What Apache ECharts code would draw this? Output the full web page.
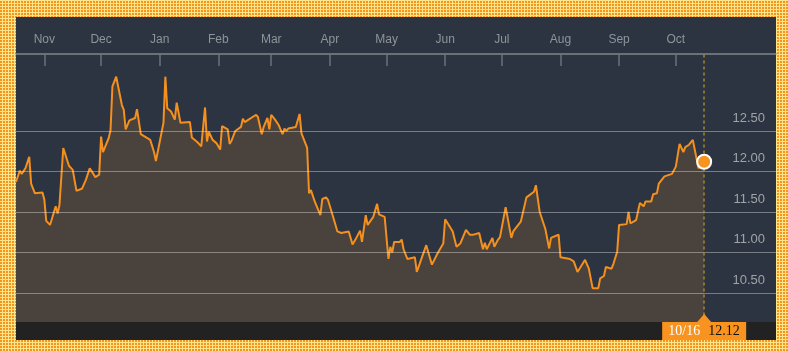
<!DOCTYPE html>
<html>
<head>
<meta charset="utf-8">
<script src="https://cdn.jsdelivr.net/npm/echarts@6/dist/echarts.min.js"></script>
<style>
html, body {
  margin: 0;
  padding: 0;
}
body {
  width: 788px;
  height: 351px;
  overflow: hidden;
  position: relative;
  background-color: #f7931e;
  background-image:
    repeating-linear-gradient(90deg, transparent 0 2px, #fde68a 2px 3px),
    repeating-linear-gradient(0deg, transparent 0 2px, #fde68a 2px 3px);
}
#panel {
  position: absolute;
  left: 16px;
  top: 17px;
  width: 760px;
  height: 323px;
  background: #2b3440;
}
#chart {
  position: absolute;
  left: 0;
  top: 0;
  width: 788px;
  height: 351px;
}
</style>
</head>
<body>
<div id="panel"></div>
<div id="chart"></div>
<script>
// price history
const dates = [
  '2014-10-17', '2014-10-18', '2014-10-19', '2014-10-20', '2014-10-22', '2014-10-24', '2014-10-25', '2014-10-26',
  '2014-10-27', '2014-10-31', '2014-11-01', '2014-11-02', '2014-11-04', '2014-11-07', '2014-11-08', '2014-11-09',
  '2014-11-11', '2014-11-14', '2014-11-16', '2014-11-18', '2014-11-21', '2014-11-23', '2014-11-25', '2014-11-28',
  '2014-11-30', '2014-12-01', '2014-12-02', '2014-12-05', '2014-12-06', '2014-12-07', '2014-12-08', '2014-12-09',
  '2014-12-12', '2014-12-13', '2014-12-14', '2014-12-16', '2014-12-19', '2014-12-20', '2014-12-22', '2014-12-23',
  '2014-12-27', '2014-12-29', '2014-12-30', '2015-01-03', '2015-01-04', '2015-01-05', '2015-01-07', '2015-01-09',
  '2015-01-10', '2015-01-12', '2015-01-13', '2015-01-17', '2015-01-18', '2015-01-19', '2015-01-21', '2015-01-23',
  '2015-01-25', '2015-01-26', '2015-01-27', '2015-01-29', '2015-01-31', '2015-02-02', '2015-02-03', '2015-02-06',
  '2015-02-07', '2015-02-08', '2015-02-09', '2015-02-10', '2015-02-13', '2015-02-14', '2015-02-15', '2015-02-17',
  '2015-02-21', '2015-02-22', '2015-02-24', '2015-02-25', '2015-02-27', '2015-02-28', '2015-03-01', '2015-03-03',
  '2015-03-05', '2015-03-07', '2015-03-08', '2015-03-09', '2015-03-10', '2015-03-14', '2015-03-16', '2015-03-17',
  '2015-03-20', '2015-03-21', '2015-03-22', '2015-03-24', '2015-03-27', '2015-03-28', '2015-03-30', '2015-03-31',
  '2015-04-03', '2015-04-05', '2015-04-07', '2015-04-08', '2015-04-11', '2015-04-13', '2015-04-15', '2015-04-17',
  '2015-04-18', '2015-04-20', '2015-04-21', '2015-04-24', '2015-04-26', '2015-04-27', '2015-04-30', '2015-05-01',
  '2015-05-02', '2015-05-03', '2015-05-04', '2015-05-05', '2015-05-08', '2015-05-09', '2015-05-10', '2015-05-12',
  '2015-05-16', '2015-05-17', '2015-05-22', '2015-05-25', '2015-05-28', '2015-05-31', '2015-06-01', '2015-06-05',
  '2015-06-07', '2015-06-09', '2015-06-12', '2015-06-14', '2015-06-15', '2015-06-16', '2015-06-19', '2015-06-21',
  '2015-06-22', '2015-06-23', '2015-06-26', '2015-06-27', '2015-06-28', '2015-06-29', '2015-06-30', '2015-07-03',
  '2015-07-06', '2015-07-07', '2015-07-11', '2015-07-14', '2015-07-18', '2015-07-19', '2015-07-21', '2015-07-24',
  '2015-07-25', '2015-07-26', '2015-07-27', '2015-07-31', '2015-08-01', '2015-08-02', '2015-08-06', '2015-08-08',
  '2015-08-10', '2015-08-11', '2015-08-14', '2015-08-16', '2015-08-18', '2015-08-21', '2015-08-22', '2015-08-24',
  '2015-08-25', '2015-08-28', '2015-08-29', '2015-08-31', '2015-09-01', '2015-09-05', '2015-09-06', '2015-09-07',
  '2015-09-10', '2015-09-12', '2015-09-13', '2015-09-14', '2015-09-15', '2015-09-18', '2015-09-19', '2015-09-21',
  '2015-09-22', '2015-09-25', '2015-09-26', '2015-09-29', '2015-10-01', '2015-10-03', '2015-10-05', '2015-10-06',
  '2015-10-08', '2015-10-10', '2015-10-11', '2015-10-13', '2015-10-14', '2015-10-16'
]
const prices = [
  11.87, 11.88, 12.01, 11.97, 12.04, 12.18, 11.85, 11.87,
  11.73, 11.74, 11.65, 11.39, 11.34, 11.57, 11.48, 11.59,
  12.29, 12.07, 12.02, 11.76, 11.79, 11.90, 12.04, 11.93,
  11.96, 12.43, 12.24, 12.41, 12.51, 13.05, 13.03, 13.17,
  12.82, 12.76, 12.52, 12.63, 12.66, 12.77, 12.46, 12.44,
  12.39, 12.24, 12.13, 12.60, 13.17, 12.78, 12.74, 12.64,
  12.85, 12.60, 12.62, 12.61, 12.42, 12.41, 12.36, 12.31,
  12.79, 12.37, 12.49, 12.39, 12.35, 12.27, 12.56, 12.52,
  12.34, 12.38, 12.39, 12.50, 12.55, 12.65, 12.61, 12.64,
  12.70, 12.67, 12.46, 12.55, 12.66, 12.52, 12.70, 12.64,
  12.57, 12.46, 12.53, 12.50, 12.53, 12.55, 12.71, 12.47,
  12.29, 11.73, 11.77, 11.63, 11.46, 11.66, 11.68, 11.65,
  11.42, 11.26, 11.24, 11.23, 11.26, 11.10, 11.18, 11.27,
  11.13, 11.46, 11.34, 11.44, 11.60, 11.47, 11.44, 11.42,
  10.92, 11.07, 11.00, 11.13, 11.13, 11.16, 11.04, 10.92,
  10.94, 10.76, 11.09, 10.85, 10.99, 11.11, 11.41, 11.26,
  11.07, 11.11, 11.28, 11.22, 11.24, 11.22, 11.24, 11.04,
  11.12, 11.04, 11.18, 11.07, 11.08, 11.16, 11.19, 11.56,
  11.18, 11.26, 11.38, 11.68, 11.75, 11.83, 11.50, 11.29,
  11.27, 11.05, 11.18, 11.22, 10.94, 10.96, 10.92, 10.89,
  10.76, 10.77, 10.91, 10.80, 10.56, 10.56, 10.68, 10.71,
  10.82, 10.80, 10.86, 11.01, 11.34, 11.35, 11.50, 11.36,
  11.40, 11.61, 11.63, 11.57, 11.63, 11.63, 11.72, 11.73,
  11.85, 11.94, 11.94, 11.97, 12.06, 12.34, 12.24, 12.30,
  12.33, 12.39, 12.38, 12.04, 12.04, 12.12
]
const monthTicks = [
  '2014-11-01', '2014-12-01', '2015-01-01', '2015-02-01', '2015-03-01', '2015-04-01',
  '2015-05-01', '2015-06-01', '2015-07-01', '2015-08-01', '2015-09-01', '2015-10-01'
]
const monthNames = ['Jan', 'Feb', 'Mar', 'Apr', 'May', 'Jun', 'Jul', 'Aug', 'Sep', 'Oct', 'Nov', 'Dec']
const priceTicks = [10.5, 11, 11.5, 12, 12.5]

const orange = '#f7931e'
const ts = (d) => echarts.time.parse(d).getTime()

let chart = echarts.init(document.getElementById('chart'))

const lineData = dates.map((d, i) => [ts(d), prices[i]])
const monthTs = monthTicks.map(ts)
const lastDate = dates[dates.length - 1]
const lastPrice = prices[prices.length - 1]

const option = {
  animation: false,
  grid: {left: 16, right: 12, top: 54, bottom: 17.5},
  xAxis: {
    // timestamps on a plain value axis so that month ticks can be given directly
    type: 'value',
    position: 'top',
    min: ts('2014-10-17'),
    max: ts('2015-11-23'),
    axisLine: {show: true, lineStyle: {color: '#80858b', width: 1.5}},
    axisTick: {
      show: true,
      inside: true,
      length: 12,
      customValues: monthTs,
      lineStyle: {color: '#6c727a', width: 1.5}
    },
    axisLabel: {
      customValues: monthTs,
      formatter: (v) => monthNames[new Date(v).getMonth()],
      color: '#8f949a',
      fontSize: 12,
      fontFamily: 'Liberation Sans, Arial, sans-serif',
      margin: 8
    },
    splitLine: {show: false}
  },
  yAxis: {
    type: 'value',
    position: 'right',
    min: 10,
    max: 13.45,
    axisLine: {show: false},
    axisTick: {show: false},
    splitLine: {show: false},
    axisLabel: {
      inside: true,
      customValues: priceTicks,
      formatter: (v) => v.toFixed(2),
      color: '#a0a4a8',
      fontSize: 13,
      fontFamily: 'Liberation Sans, Arial, sans-serif',
      margin: 11,
      verticalAlign: 'bottom',
      lineHeight: 14,
      padding: [0, 0, 6, 0]
    }
  },
  series: [
    {
      // filled area under the price
      type: 'line',
      data: lineData,
      z: 1,
      silent: true,
      symbol: 'none',
      lineStyle: {width: 0},
      areaStyle: {color: '#4a423c', opacity: 1}
    },
    {
      // grid lines and the date marker, drawn over the area
      type: 'line',
      data: [],
      z: 2,
      markLine: {
        silent: true,
        symbol: 'none',
        animation: false,
        label: {show: false},
        lineStyle: {color: 'rgba(255,255,255,0.36)', type: 'solid', width: 1},
        data: priceTicks.map((v) => ({yAxis: v})).concat([{
          xAxis: ts(lastDate),
          lineStyle: {color: '#a9852c', type: [3, 3], width: 1.5}
        }])
      }
    },
    {
      type: 'line',
      data: lineData,
      z: 3,
      symbol: 'none',
      lineStyle: {color: '#f39020', width: 2}
    },
    {
      type: 'scatter',
      data: [[ts(lastDate), lastPrice]],
      z: 5,
      symbolSize: 14,
      itemStyle: {color: orange, borderColor: '#ffffff', borderWidth: 2, opacity: 1}
    }
  ]
}

chart.setOption(option)

// bottom band with the last date / price tag
const px = chart.convertToPixel({gridIndex: 0}, [ts(lastDate), lastPrice])[0]
const parts = lastDate.split('-')
chart.setOption({
  graphic: [
    {type: 'rect', z: 100, shape: {x: 16, y: 322, width: 760, height: 18}, style: {fill: '#222222'}},
    {type: 'polygon', z: 101, shape: {points: [[px - 7, 322], [px, 314], [px + 7, 322]]}, style: {fill: orange}},
    {type: 'rect', z: 101, shape: {x: px - 42, y: 322, width: 84, height: 18}, style: {fill: orange}},
    {
      type: 'text', z: 102, x: px - 4, y: 331,
      style: {text: parts[1] + '/' + parts[2], fill: '#ffffff', font: '14px "Liberation Serif", serif', align: 'right', verticalAlign: 'middle'}
    },
    {
      type: 'text', z: 102, x: px + 4, y: 331,
      style: {text: lastPrice.toFixed(2), fill: '#111111', font: '14px "Liberation Serif", serif', align: 'left', verticalAlign: 'middle'}
    }
  ]
})
</script>
</body>
</html>
